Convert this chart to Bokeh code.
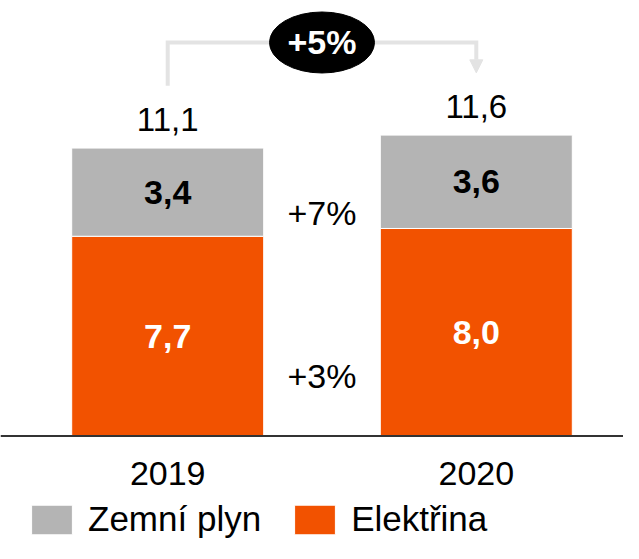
from bokeh.plotting import figure
from bokeh.models import (ColumnDataSource, Range1d, Span, Legend, LegendItem,
                          Arrow, NormalHead)
from bokeh.core.properties import value
from bokeh.embed import file_html
from bokeh.resources import INLINE

# ---- data ----
years = ["2019", "2020"]
elektrina = [7.7, 8.0]
zemni_plyn = [3.4, 3.6]
totals = [round(a + b, 1) for a, b in zip(elektrina, zemni_plyn)]
growth_elektrina = "+3%"
growth_plyn = "+7%"
growth_total = "+5%"
series_names = ["Zemní plyn", "Elektřina"]

ORANGE = "#F25200"
GRAY = "#B4B4B4"
ARROW = "#E3E3E3"
FONT = value("Liberation Sans")

def fmt(v):
    return f"{v:.1f}".replace(".", ",")

xs = list(range(len(years)))
src = ColumnDataSource(dict(
    x=xs, year=years, elek=elektrina, gas=zemni_plyn, total=totals,
    elek_mid=[e / 2 for e in elektrina],
    gas_mid=[e + g / 2 for e, g in zip(elektrina, zemni_plyn)],
    elek_lbl=[fmt(v) for v in elektrina],
    gas_lbl=[fmt(v) for v in zemni_plyn],
    tot_lbl=[fmt(v) for v in totals],
    zero=[0] * len(years),
))

W, H = 623, 543
PX = 25.94         # pixels per unit
BASE = 435.5       # baseline pixel from top
XC0, XSTEP = 167.2, 308.6

p = figure(width=W, height=H, output_backend="svg", toolbar_location=None,
           x_range=Range1d(-XC0 / XSTEP, (W - XC0) / XSTEP),
           y_range=Range1d(-(H - BASE) / PX, BASE / PX),
           x_axis_type=None, y_axis_type=None, min_border=0,
           outline_line_color=None)
p.grid.visible = False

r_elec, r_gas = p.vbar_stack(["elek", "gas"], x="x", width=192 / XSTEP,
                             color=[ORANGE, GRAY], line_color="white",
                             line_width=1, source=src)

p.add_layout(Span(location=0, dimension="width", line_color="#333333",
                  line_width=2))

# segment labels
p.text(x="x", y="elek_mid", text="elek_lbl", source=src, text_color="white",
       text_font=FONT, text_font_style="bold", text_font_size="34px",
       text_align="center", text_baseline="middle")
p.text(x="x", y="gas_mid", text="gas_lbl", source=src, text_color="black",
       text_font=FONT, text_font_style="bold", text_font_size="34px",
       text_align="center", text_baseline="middle")
# totals
p.text(x="x", y="total", text="tot_lbl", source=src, text_color="black",
       text_font=FONT, text_font_size="33px", y_offset=-29,
       text_align="center", text_baseline="middle")
# year labels
p.text(x="x", y="zero", text="year", source=src, text_color="black",
       text_font=FONT, text_font_size="34px", y_offset=37,
       text_align="center", text_baseline="middle")

# growth labels between bars
mid_x = (xs[0] + xs[1]) / 2
p.text(x=[mid_x, mid_x], y=[2.3, 8.6], text=[growth_elektrina, growth_plyn],
       text_color="black", text_font=FONT, text_font_size="34px",
       text_align="center", text_baseline="middle")

# bracket arrow for total growth
gap = 2.4
top = max(totals) + 3.57
p.line(x=[xs[0], xs[0], xs[1], xs[1]],
       y=[totals[0] + gap, top, top, totals[1] + gap + 0.5],
       line_color=ARROW, line_width=4, line_join="miter")
p.add_layout(Arrow(end=NormalHead(size=13, fill_color=ARROW, line_color=ARROW),
                   x_start=xs[1], y_start=totals[1] + gap + 0.5,
                   x_end=xs[1], y_end=totals[1] + gap,
                   line_color=ARROW, line_width=4))
p.ellipse(x=[mid_x], y=[top], width=105, height=61, width_units="screen",
          height_units="screen", fill_color="black", line_color="black")
p.text(x=[mid_x], y=[top], text=[growth_total], text_color="white",
       text_font=FONT, text_font_style="bold", text_font_size="34px",
       text_align="center", text_baseline="middle")

legend = Legend(items=[LegendItem(label=series_names[0], renderers=[r_gas]),
                       LegendItem(label=series_names[1], renderers=[r_elec])],
                orientation="horizontal", location=(26, 4),
                glyph_width=51, glyph_height=37, label_standoff=11,
                spacing=28, padding=0, margin=0, border_line_color=None,
                background_fill_alpha=0, label_text_font="Liberation Sans",
                label_text_font_size="35px", label_text_color="black",
                label_height=37)
p.add_layout(legend)

open("out.html", "w").write(file_html(p, INLINE))
